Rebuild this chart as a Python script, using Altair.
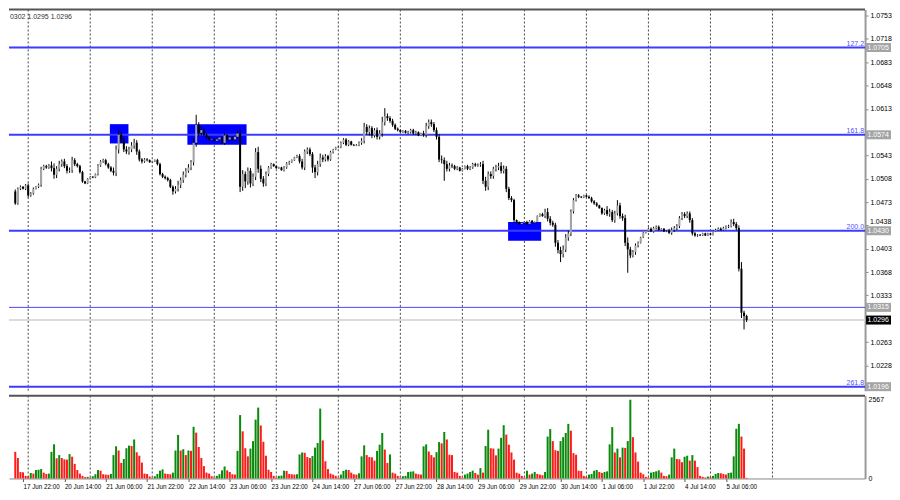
import altair as alt
import pandas as pd

# ---------------- data ----------------
first_open = 10489  # price * 10000 of the first bar's open

closes = [
    10471, 10493, 10496, 10493, 10498, 10483, 10486, 10493, 10496, 10499,
    10523, 10527, 10525, 10528, 10524, 10514, 10523, 10530, 10534, 10527,
    10520, 10521, 10536, 10530, 10527, 10518, 10504, 10501, 10508, 10511,
    10510, 10515, 10528, 10534, 10536, 10530, 10525, 10520, 10517, 10552,
    10574, 10567, 10552, 10549, 10552, 10558, 10562, 10549, 10537, 10534,
    10537, 10536, 10533, 10534, 10536, 10530, 10515, 10511, 10509, 10506,
    10496, 10489, 10493, 10499, 10506, 10514, 10520, 10525, 10533, 10562,
    10589, 10577, 10581, 10574, 10570, 10567, 10568, 10565, 10567, 10570,
    10562, 10573, 10567, 10570, 10567, 10571, 10576, 10496, 10515, 10504,
    10520, 10501, 10511, 10548, 10523, 10508, 10501, 10515, 10525, 10530,
    10527, 10524, 10525, 10521, 10525, 10531, 10533, 10536, 10540, 10542,
    10534, 10525, 10549, 10552, 10545, 10525, 10518, 10530, 10540, 10537,
    10542, 10537, 10548, 10552, 10555, 10556, 10562, 10567, 10559, 10564,
    10559, 10558, 10559, 10562, 10565, 10586, 10578, 10584, 10573, 10581,
    10571, 10576, 10593, 10602, 10599, 10595, 10589, 10583, 10581, 10578,
    10580, 10577, 10578, 10581, 10576, 10578, 10573, 10576, 10574, 10587,
    10593, 10590, 10581, 10571, 10537, 10536, 10530, 10523, 10528, 10527,
    10523, 10525, 10520, 10523, 10527, 10523, 10525, 10530, 10528, 10529,
    10530, 10505, 10496, 10515, 10512, 10523, 10525, 10527, 10520, 10523,
    10493, 10479, 10476, 10446, 10443, 10440, 10442, 10443, 10440, 10445,
    10442, 10443, 10452, 10455, 10452, 10458, 10448, 10442, 10439, 10412,
    10401, 10395, 10402, 10420, 10426, 10459, 10476, 10483, 10481, 10480,
    10483, 10481, 10479, 10474, 10471, 10468, 10464, 10456, 10461, 10455,
    10458, 10446, 10456, 10468, 10452, 10449, 10412, 10402, 10393, 10398,
    10408, 10412, 10420, 10427, 10430, 10433, 10429, 10434, 10436, 10431,
    10433, 10429, 10430, 10427, 10431, 10434, 10437, 10449, 10455, 10452,
    10456, 10446, 10426, 10423, 10424, 10423, 10426, 10423, 10426, 10424,
    10429, 10431, 10433, 10431, 10434, 10436, 10437, 10443, 10440, 10434,
    10373, 10307, 10302, 10296,
]

wick_up = [
    3, 2, 2, 1, 2, 3, 2, 2, 1, 2,
    3, 2, 2, 2, 6, 7, 4, 5, 3, 4,
    3, 4, 5, 3, 2, 2, 2, 1, 1, 1,
    1, 1, 2, 2, 2, 2, 2, 2, 5, 6,
    7, 4, 3, 5, 4, 5, 6, 4, 3, 2,
    2, 2, 1, 1, 1, 2, 2, 2, 2, 2,
    2, 2, 4, 6, 4, 5, 4, 5, 3, 7,
    15, 4, 5, 3, 2, 2, 2, 1, 1, 1,
    2, 4, 2, 2, 2, 2, 4, 6, 6, 4,
    5, 4, 5, 6, 8, 5, 4, 4, 2, 2,
    1, 1, 1, 1, 2, 2, 2, 1, 1, 2,
    3, 4, 3, 3, 3, 3, 4, 5, 6, 4,
    3, 2, 2, 1, 1, 1, 2, 2, 2, 2,
    1, 1, 1, 2, 4, 6, 4, 4, 3, 3,
    4, 5, 8, 12, 4, 3, 3, 2, 2, 1,
    1, 1, 2, 2, 2, 2, 1, 1, 4, 5,
    4, 4, 3, 4, 4, 6, 4, 5, 4, 3,
    2, 2, 1, 1, 1, 2, 2, 2, 2, 2,
    3, 5, 6, 4, 4, 3, 4, 5, 6, 5,
    4, 3, 3, 2, 1, 1, 1, 1, 2, 1,
    1, 1, 1, 1, 2, 5, 6, 4, 3, 3,
    4, 5, 6, 5, 4, 3, 3, 2, 2, 1,
    1, 1, 2, 2, 2, 2, 1, 1, 2, 6,
    5, 3, 4, 8, 4, 4, 5, 8, 4, 3,
    3, 2, 1, 1, 1, 2, 2, 2, 2, 2,
    1, 1, 1, 3, 4, 3, 3, 3, 3, 3,
    3, 3, 3, 2, 1, 1, 1, 1, 1, 1,
    1, 2, 2, 2, 2, 2, 2, 4, 5, 3,
    4, 10, 3, 2,
]

wick_dn = [
    2, 2, 2, 1, 2, 3, 2, 2, 1, 2,
    3, 2, 2, 2, 5, 6, 5, 4, 4, 3,
    4, 3, 4, 3, 2, 2, 2, 1, 1, 1,
    1, 1, 2, 2, 2, 2, 2, 2, 4, 5,
    6, 5, 4, 4, 5, 4, 5, 5, 3, 3,
    2, 2, 1, 1, 1, 2, 2, 2, 2, 2,
    2, 5, 3, 4, 5, 4, 4, 3, 4, 5,
    6, 5, 4, 3, 2, 2, 1, 1, 1, 1,
    2, 3, 2, 2, 2, 2, 3, 8, 6, 10,
    5, 6, 4, 5, 6, 5, 5, 4, 3, 2,
    1, 1, 1, 1, 2, 2, 2, 1, 1, 1,
    3, 3, 4, 4, 3, 8, 9, 5, 4, 4,
    3, 3, 2, 2, 1, 1, 2, 2, 2, 2,
    1, 1, 1, 2, 3, 4, 4, 5, 4, 3,
    4, 4, 5, 5, 4, 3, 3, 2, 2, 1,
    1, 1, 2, 2, 2, 2, 1, 1, 3, 4,
    4, 4, 3, 4, 4, 5, 25, 4, 4, 3,
    2, 2, 1, 1, 1, 2, 2, 2, 2, 2,
    3, 5, 6, 5, 4, 4, 4, 4, 4, 4,
    5, 3, 3, 4, 2, 1, 1, 1, 1, 1,
    1, 1, 1, 1, 1, 3, 4, 4, 3, 6,
    5, 12, 5, 4, 5, 4, 3, 2, 2, 1,
    1, 1, 1, 2, 2, 2, 1, 2, 2, 3,
    4, 3, 4, 3, 4, 4, 5, 35, 4, 3,
    4, 3, 1, 1, 1, 1, 1, 2, 2, 1,
    1, 1, 1, 2, 3, 3, 3, 3, 3, 3,
    3, 4, 3, 2, 2, 1, 1, 1, 1, 1,
    1, 1, 1, 1, 1, 2, 2, 2, 3, 3,
    4, 8, 20, 3,
]

volumes = [
    869, 668, 212, 201, 85, 74, 180, 159, 276, 286,
    307, 191, 148, 159, 869, 1113, 657, 763, 668, 625,
    615, 795, 710, 477, 276, 159, 85, 42, 53, 32,
    74, 138, 276, 254, 138, 127, 117, 148, 763, 1049,
    912, 509, 636, 986, 1071, 1060, 1272, 859, 742, 519,
    159, 148, 64, 32, 74, 148, 254, 297, 159, 148,
    138, 191, 912, 1420, 912, 954, 763, 912, 901, 1685,
    1495, 1028, 668, 403, 191, 159, 74, 32, 85, 138,
    265, 392, 265, 212, 138, 127, 901, 2067, 1537, 986,
    721, 975, 1219, 1919, 2311, 1728, 1198, 742, 286, 212,
    85, 32, 85, 95, 254, 244, 148, 138, 127, 138,
    784, 848, 837, 700, 668, 731, 1007, 1155, 2279, 1240,
    562, 307, 159, 127, 85, 32, 127, 244, 286, 276,
    191, 138, 127, 170, 721, 1081, 763, 700, 689, 583,
    901, 1102, 1484, 943, 509, 784, 191, 159, 85, 32,
    74, 85, 212, 223, 233, 159, 138, 127, 1049, 1113,
    880, 763, 689, 859, 1187, 1145, 1516, 1272, 774, 763,
    212, 191, 85, 32, 127, 159, 212, 254, 180, 127,
    339, 191, 1060, 1590, 986, 975, 753, 975, 1325, 1738,
    1431, 1102, 848, 615, 191, 159, 85, 32, 254, 127,
    159, 212, 148, 127, 106, 212, 1367, 1611, 1219, 922,
    901, 1219, 1346, 1484, 1781, 1558, 827, 774, 254, 244,
    85, 53, 127, 148, 254, 276, 212, 180, 212, 233,
    1113, 1675, 848, 975, 689, 1007, 996, 1219, 2567, 1346,
    848, 551, 191, 138, 53, 32, 191, 212, 233, 265,
    191, 85, 74, 127, 689, 975, 636, 625, 530, 710,
    742, 583, 763, 583, 371, 85, 53, 32, 64, 42,
    85, 148, 180, 170, 148, 127, 180, 191, 721, 1622,
    1781, 1367, 975, 21,
]

tick_bars = [3, 19, 35, 51, 67, 83, 99, 115, 131, 147, 163, 179, 195, 211, 227, 243, 259, 275]
time_labels = ["17 Jun 22:00", "20 Jun 14:00", "21 Jun 06:00", "21 Jun 22:00", "22 Jun 14:00",
               "23 Jun 06:00", "23 Jun 22:00", "24 Jun 14:00", "27 Jun 06:00", "27 Jun 22:00",
               "28 Jun 14:00", "29 Jun 06:00", "29 Jun 22:00", "30 Jun 14:00", "1 Jul 06:00",
               "1 Jul 22:00", "4 Jul 14:00", "5 Jul 06:00"]
day_bars = [5, 29, 53, 77, 101, 125, 149, 173, 197, 221, 245, 269, 293]

price_ticks = [1.0753, 1.0718, 1.0683, 1.0648, 1.0613, 1.0543, 1.0508, 1.0473,
               1.0438, 1.0403, 1.0368, 1.0333, 1.0263, 1.0228]
crowded_tick = 1.0438  # the tick label that sits just above the 1.0430 box
fib_levels = [1.0705, 1.0574, 1.0430, 1.0196]
fib_names = ["127.2", "161.8", "200.0", "261.8"]
line_level = 1.0315
bid_price = 1.0296
box_prices = [1.0705, 1.0574, 1.0430, 1.0315, 1.0196, 1.0296]
box_kinds = ["level", "level", "level", "level", "level", "bid"]

rect_x0 = [36.6, 66.6, 190.7]
rect_x1 = [43.8, 89.5, 203.5]
rect_top = [1.0590, 1.0590, 1.0443]
rect_bottom = [1.0561, 1.0559, 1.0415]

vol_ticks = [0, 2567]
header_text = "0302 1.0295 1.0296"

# ---------------- tables ----------------
n = min(len(closes), len(wick_up), len(wick_dn))
opens = [first_open] + closes[:-1]
rows = []
for i in range(n):
    o, c = opens[i], closes[i]
    rows.append({
        "bar": i,
        "open": o / 10000, "close": c / 10000,
        "high": (max(o, c) + wick_up[i]) / 10000,
        "low": (min(o, c) - wick_dn[i]) / 10000,
        "candle": "bull" if c > o else "bear",
    })
cdf = pd.DataFrame(rows)

vrows = []
for i, v in enumerate(volumes):
    up = i > 0 and v > volumes[i - 1]
    vrows.append({"bar": i, "vol": v, "vdir": "up" if up else "down"})
vdf = pd.DataFrame(vrows)

day_df = pd.DataFrame({"bar": day_bars})
rect_df = pd.DataFrame({"x0": rect_x0, "x1": rect_x1, "top": rect_top, "bottom": rect_bottom})
fib_df = pd.DataFrame({"price": fib_levels, "name": fib_names})
box_df = pd.DataFrame({"price": box_prices, "kind": box_kinds,
                       "label": [f"{p:.4f}" for p in box_prices]})
crowd_df = pd.DataFrame({"price": [crowded_tick], "label": [f"{crowded_tick:.4f}"]})

# ---------------- layout ----------------
W, H1, H2 = 858, 382, 83
FONT = "Liberation Sans"
xscale = alt.Scale(domain=[-0.5, 326.9], nice=False, zero=False)
yscale = alt.Scale(domain=[1.0190, 1.0762], nice=False, zero=False)

yaxis = alt.Axis(orient="right", values=price_ticks, format=".4f", labelFontSize=7,
                 labelFont=FONT, labelColor="#000000", tickSize=3, tickColor="#888888",
                 domainColor="#9a9a9a", domainWidth=2, grid=False, title=None,
                 labelPadding=2, labelOverlap=False, labelFlush=False,
                 labelExpr=f"abs(datum.value - {crowded_tick}) < 0.00001 ? '' : format(datum.value, '.4f')")


def Y(field):
    return alt.Y(field, type="quantitative", scale=yscale, axis=yaxis)


def X(field):
    return alt.X(field, type="quantitative", scale=xscale, axis=None)


grid = alt.Chart(day_df).mark_rule(color="#444444", strokeDash=[2, 2], strokeWidth=1).encode(x=X("bar"))

rects = alt.Chart(rect_df).mark_rect(color="#0000ff").encode(
    x=X("x0"), x2="x1", y=Y("top"), y2="bottom")

fib_lines = alt.Chart(fib_df).mark_rule(color="#3c3cff", strokeWidth=2).encode(y=Y("price"))

thin_line = alt.Chart(pd.DataFrame({"price": [line_level]})).mark_rule(
    color="#4848ff", strokeWidth=1).encode(y=Y("price"))

bid_line = alt.Chart(pd.DataFrame({"price": [bid_price]})).mark_rule(
    color="#dcdcdc", strokeWidth=2).encode(y=Y("price"))

wicks = alt.Chart(cdf).mark_rule(color="#000000", strokeWidth=1).encode(
    x=X("bar"), y=Y("low"), y2="high")

bodies = alt.Chart(cdf).mark_bar(size=2).encode(
    x=X("bar"), y=Y("open"), y2="close",
    color=alt.Color("candle:N", scale=alt.Scale(domain=["bull", "bear"], range=["#a4a4a4", "#000000"]),
                    legend=None))

fib_text = alt.Chart(fib_df).mark_text(align="right", baseline="bottom", fontSize=7, font=FONT,
                                       color="#5050ff", dy=-1).encode(
    x=alt.value(W - 1), y=Y("price"), text="name:N")

box_bg = alt.Chart(box_df).mark_tick(orient="horizontal", size=25, thickness=9, opacity=1).encode(
    x=alt.value(W + 13.5), y=Y("price"),
    color=alt.Color("kind:N", scale=alt.Scale(domain=["level", "bid"], range=["#1010ff", "#000000"]),
                    legend=None))

box_text = alt.Chart(box_df).mark_text(align="left", baseline="middle", fontSize=7, font=FONT,
                                       color="#ffffff").encode(
    x=alt.value(W + 2.5), y=Y("price"), text="label:N")

crowd_text = alt.Chart(crowd_df).mark_text(align="left", baseline="middle", fontSize=7, font=FONT,
                                           color="#000000", dy=-3).encode(
    x=alt.value(W + 5), y=Y("price"), text="label:N")

header = alt.Chart(pd.DataFrame({"t": [header_text]})).mark_text(
    align="left", baseline="top", fontSize=7, font=FONT, color="#333333").encode(
    x=alt.value(1), y=alt.value(3), text="t:N")

top_border = alt.Chart(pd.DataFrame({"a": [0]})).mark_rule(color="#555555", strokeWidth=2).encode(
    x=alt.value(0), x2=alt.value(W), y=alt.value(0))

price_panel = alt.layer(grid, rects, fib_lines, thin_line, bid_line, wicks, bodies,
                        fib_text, crowd_text, box_bg, box_text, header, top_border
                        ).properties(width=W, height=H1)

# volume panel
labels_js = "[" + ",".join(f"'{t}'" for t in time_labels) + "]"
bars_js = "[" + ",".join(str(b) for b in tick_bars) + "]"
xaxis_time = alt.Axis(values=tick_bars, labelExpr=f"{labels_js}[indexof({bars_js}, datum.value)]",
                      labelAlign="left", labelFontSize=6.3, labelFont=FONT, labelColor="#000000",
                      tickSize=3, tickColor="#555555", domainColor="#888888", domainWidth=1,
                      grid=False, title=None, labelPadding=2, labelOverlap=False, labelFlush=False,
                      labelOffset=0)
vscale = alt.Scale(domain=[0, 2700], nice=False, zero=True)
vaxis = alt.Axis(orient="right", values=vol_ticks, format="d", labelFontSize=7, labelFont=FONT,
                 labelColor="#000000", ticks=False, domainColor="#9a9a9a", domainWidth=2,
                 grid=False, title=None, labelPadding=3, labelOverlap=False, labelFlush=False)

vgrid = alt.Chart(day_df).mark_rule(color="#444444", strokeDash=[2, 2], strokeWidth=1).encode(
    x=alt.X("bar:Q", scale=xscale, axis=xaxis_time))
vbars = alt.Chart(vdf).mark_bar(size=2).encode(
    x=alt.X("bar:Q", scale=xscale, axis=xaxis_time),
    y=alt.Y("vol:Q", scale=vscale, axis=vaxis), y2=alt.datum(0),
    color=alt.Color("vdir:N", scale=alt.Scale(domain=["up", "down"], range=["#0a8a0a", "#ff1a1a"]),
                    legend=None))
vtop = alt.Chart(pd.DataFrame({"a": [0]})).mark_rule(color="#555555", strokeWidth=2).encode(
    x=alt.value(0), x2=alt.value(W), y=alt.value(0))

volume_panel = alt.layer(vgrid, vbars, vtop).properties(width=W, height=H2)

chart = alt.vconcat(price_panel, volume_panel, spacing=3).resolve_scale(
    color="independent").properties(padding=0, background="#ffffff").configure_view(stroke=None)

chart.save("out.html", embed_options={"renderer": "svg", "actions": False})
